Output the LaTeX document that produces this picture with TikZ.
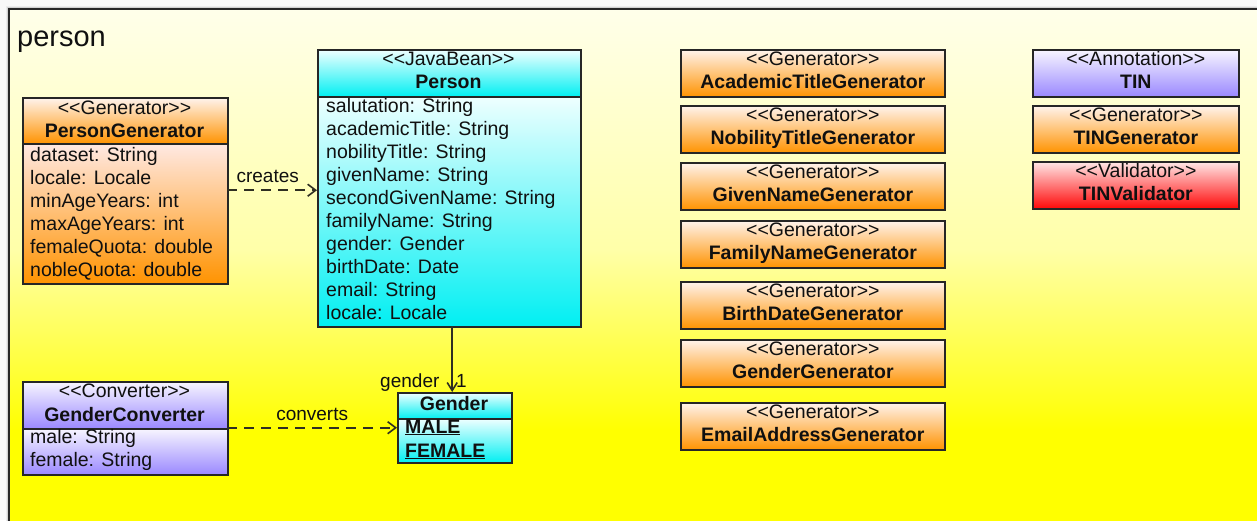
\documentclass[tikz,border=0pt]{standalone}
\usepackage{fontspec}
\setmainfont{Liberation Sans}
\usetikzlibrary{arrows.meta}

\definecolor{boxc}{HTML}{262626}
\definecolor{txtc}{HTML}{101010}
\definecolor{edgec}{HTML}{2F2F22}
\definecolor{orT}{HTML}{FFF3EC}
\definecolor{orB}{HTML}{FF9300}
\definecolor{cyT}{HTML}{EEFFFF}
\definecolor{cyM}{HTML}{60F5F5}
\definecolor{cyB}{HTML}{00EFF2}
\definecolor{laT}{HTML}{F7F5FF}
\definecolor{laB}{HTML}{9A88FF}
\definecolor{rdT}{HTML}{FFE6E6}
\definecolor{rdB}{HTML}{FF0808}
\definecolor{pkgT}{HTML}{FFFFEA}
\definecolor{pkgM}{HTML}{FFFFA8}
\definecolor{pkgB}{HTML}{FFFF00}
\definecolor{outer}{HTML}{F8F8F8}

% stereotype brackets, kept apart so they stay plain angle brackets
\newcommand{\umlst}[1]{<{}<#1>{}>}

% one-compartment class: name, x, y, width, top colour, bottom colour, stereotype, class name
\newcommand{\umlsimple}[8]{%
  \node[frm, top color=#5, bottom color=#6, minimum width=#4, minimum height=47pt] (#1) at (#2,#3) {};
  \node[stereo] (#1-st) at ([yshift=-16pt]#1.north) {\umlst{#7}};
  \node[cname] (#1-nm) at ([yshift=-39pt]#1.north) {#8};
}

\tikzset{
  frm/.style={draw=boxc, line width=1.7pt, rectangle, inner sep=0pt, anchor=north west},
  whole/.style={rectangle, inner sep=0pt, anchor=north west},
  stereo/.style={inner sep=0pt, anchor=base, text=txtc},
  cname/.style={stereo, font=\fontsize{19.5}{23}\selectfont\bfseries},
  attr/.style={inner sep=0pt, anchor=base west, text=txtc},
  elabel/.style={inner sep=0pt, text=txtc, font=\fontsize{19}{23}\selectfont},
  dep/.style={draw=edgec, line width=1.6pt, dash pattern=on 10pt off 7pt,
    -{Straight Barb[length=8pt, width=12pt]}},
  assoc/.style={draw=edgec, line width=1.6pt, -{Straight Barb[length=8pt, width=10pt]}},
}

\begin{document}
\begin{tikzpicture}[x=1pt, y=-1pt, font=\fontsize{19.5}{23}\selectfont]
\useasboundingbox (0,0) rectangle (1257,520);
\clip (0,0) rectangle (1257,520);

% ---------- package frame ----------
\fill[outer] (0,0) rectangle (1257,520);
\draw[black!8, line width=7pt] (9,560) -- (9,9) -- (1290,9);
\draw[black!18, line width=3.5pt] (9,560) -- (9,9) -- (1290,9);
\shade[top color=pkgT, bottom color=pkgM] (9,9) rectangle (1290,251);
\shade[top color=pkgM, bottom color=pkgB] (9,250) rectangle (1290,431);
\fill[pkgB] (9,430) rectangle (1290,560);
\draw[boxc, line width=1.7pt] (9,560) -- (9,9) -- (1290,9);
\node[inner sep=0pt, anchor=base west, text=txtc, font=\fontsize{29}{34}\selectfont] (pkgname) at (17,46) {person};

% ---------- PersonGenerator ----------
\node[whole, minimum width=205pt, minimum height=186pt] (pg) at (22,97) {};
\node[frm, top color=orT, bottom color=orB, minimum width=205pt, minimum height=46pt] (pg-h) at (22,97) {};
\node[frm, top color=orT!80!pink, bottom color=orB, minimum width=205pt, minimum height=140pt] (pg-b) at (22,143) {};
\node[stereo] (pg-st) at (124.5,114) {\umlst{Generator}};
\node[cname] (pg-nm) at (124.5,137) {PersonGenerator};
\node[attr] (pg-a1) at (30,161) {dataset: String};
\node[attr] (pg-a2) at (30,184) {locale: Locale};
\node[attr] (pg-a3) at (30,207) {minAgeYears: int};
\node[attr] (pg-a4) at (30,230) {maxAgeYears: int};
\node[attr] (pg-a5) at (30,253) {femaleQuota: double};
\node[attr] (pg-a6) at (30,276) {nobleQuota: double};

% ---------- Person ----------
\node[whole, minimum width=263pt, minimum height=277pt] (person) at (317,49) {};
\node[frm, top color=cyT, bottom color=cyB, minimum width=263pt, minimum height=47pt] (person-h) at (317,49) {};
\node[frm, top color=cyT, middle color=cyM, bottom color=cyB, minimum width=263pt, minimum height=230pt] (person-b) at (317,96) {};
\node[stereo] (person-st) at (448.5,65) {\umlst{JavaBean}};
\node[cname] (person-nm) at (448.5,88) {Person};
\foreach \t [count=\i from 0] in {salutation: String, academicTitle: String, nobilityTitle: String,
    givenName: String, secondGivenName: String, familyName: String, gender: Gender,
    birthDate: Date, email: String, locale: Locale}
  \node[attr] (person-a\i) at (326,112+23*\i) {\t};

% ---------- GenderConverter ----------
\node[whole, minimum width=205pt, minimum height=93pt] (gc) at (22,381) {};
\node[frm, top color=laT, bottom color=laB, minimum width=205pt, minimum height=47pt] (gc-h) at (22,381) {};
\node[frm, top color=laT, bottom color=laB, minimum width=205pt, minimum height=46pt] (gc-b) at (22,428) {};
\node[stereo] (gc-st) at (124.5,397) {\umlst{Converter}};
\node[cname] (gc-nm) at (124.5,421) {GenderConverter};
\node[attr] (gc-a1) at (30,443) {male: String};
\node[attr] (gc-a2) at (30,466) {female: String};

% ---------- Gender enumeration ----------
\node[whole, minimum width=114pt, minimum height=70pt] (gender) at (397,392) {};
\node[frm, top color=cyT, bottom color=cyB, minimum width=114pt, minimum height=26pt] (gender-h) at (397,392) {};
\node[frm, top color=cyT, bottom color=cyB, minimum width=114pt, minimum height=44pt] (gender-b) at (397,418) {};
\node[cname] (gender-nm) at (454,410) {Gender};
\node[attr, font=\fontsize{19.5}{23}\selectfont\bfseries] (gender-v1) at (405,433) {\underline{MALE}};
\node[attr, font=\fontsize{19.5}{23}\selectfont\bfseries] (gender-v2) at (405,457) {\underline{FEMALE}};

% ---------- generator column ----------
\umlsimple{atg}{680}{49}{264pt}{orT}{orB}{Generator}{AcademicTitleGenerator}
\umlsimple{ntg}{680}{105}{264pt}{orT}{orB}{Generator}{NobilityTitleGenerator}
\umlsimple{gng}{680}{162}{264pt}{orT}{orB}{Generator}{GivenNameGenerator}
\umlsimple{fng}{680}{220}{264pt}{orT}{orB}{Generator}{FamilyNameGenerator}
\umlsimple{bdg}{680}{281}{264pt}{orT}{orB}{Generator}{BirthDateGenerator}
\umlsimple{ggg}{680}{339}{264pt}{orT}{orB}{Generator}{GenderGenerator}
\umlsimple{eag}{680}{402}{264pt}{orT}{orB}{Generator}{EmailAddressGenerator}

% ---------- TIN column ----------
\umlsimple{tin}{1032}{49}{206pt}{laT}{laB}{Annotation}{TIN}
\umlsimple{ting}{1032}{105}{206pt}{orT}{orB}{Generator}{TINGenerator}
\umlsimple{tinv}{1032}{161}{206pt}{rdT}{rdB}{Validator}{TINValidator}

% ---------- connectors ----------
\draw[dep] (pg.east) -- (pg.east -| person.west)
  node[elabel, pos=0.45, anchor=south, yshift=7pt] (lcreates) {creates};
\draw[dep] (gc.east) -- (gc.east -| gender.west)
  node[elabel, pos=0.5, anchor=south, yshift=6pt] (lconverts) {converts};
\draw[assoc] ([xshift=-2pt]gender.north |- person.south) -- ([xshift=-2pt]gender.north)
  node[elabel, pos=1, anchor=base east, xshift=-12pt, yshift=5pt] (lrole) {gender}
  node[elabel, pos=1, anchor=base west, xshift=3pt, yshift=5pt] (lmult) {1};
\end{tikzpicture}
\end{document}
